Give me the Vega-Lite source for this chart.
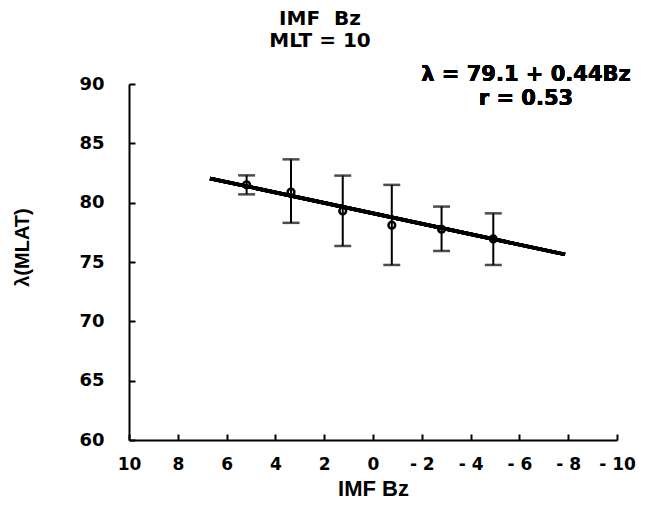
{
  "$schema": "https://vega.github.io/schema/vega-lite/v6.json",
  "autosize": {"type": "none"},
  "width": 488,
  "height": 356,
  "padding": {"left": 129, "top": 84, "right": 40, "bottom": 71},
  "background": "white",
  "title": {
    "text": ["IMF\u00a0\u00a0Bz", "MLT\u00a0=\u00a010"],
    "font": "DejaVu Sans",
    "fontSize": 20,
    "fontWeight": "bold",
    "lineHeight": 22,
    "anchor": "middle",
    "frame": "group",
    "dx": -53,
    "offset": 13,
    "color": "black"
  },
  "config": {
    "view": {"stroke": null},
    "axis": {
      "domainColor": "black",
      "domainWidth": 2,
      "tickColor": "black",
      "tickWidth": 2,
      "grid": false,
      "labelFont": "DejaVu Sans",
      "labelFontWeight": "bold",
      "labelFontSize": 18,
      "labelColor": "black",
      "labelOverlap": false,
      "titleFont": "Liberation Sans",
      "titleFontWeight": "bold",
      "titleColor": "black"
    }
  },
  "data": {
    "values": [
      {"bz": 5.18, "lat": 81.5, "lo": 80.7, "hi": 82.3},
      {"bz": 3.36, "lat": 80.9, "lo": 78.3, "hi": 83.65},
      {"bz": 1.24, "lat": 79.3, "lo": 76.35, "hi": 82.28},
      {"bz": -0.77, "lat": 78.1, "lo": 74.75, "hi": 81.5},
      {"bz": -2.81, "lat": 77.76, "lo": 75.93, "hi": 79.67},
      {"bz": -4.93, "lat": 76.94, "lo": 74.75, "hi": 79.1}
    ]
  },
  "encoding": {
    "x": {
      "field": "bz",
      "type": "quantitative",
      "scale": {"domain": [-10, 10], "reverse": true, "nice": false, "zero": false},
      "axis": {
        "title": "IMF Bz",
        "titleFontSize": 22,
        "values": [10, 8, 6, 4, 2, 0, -2, -4, -6, -8, -10],
        "labelExpr": "replace(datum.label, '−', '- ')",
        "labelFontSize": 17,
        "labelOverlap": false,
        "labelBound": false,
        "labelFlush": false,
        "tickSize": -6,
        "labelPadding": 22,
        "titlePadding": 6
      }
    },
    "y": {
      "field": "lat",
      "type": "quantitative",
      "scale": {"domain": [60, 90], "nice": false, "zero": false},
      "axis": {
        "title": "λ(MLAT)",
        "titleFontSize": 20,
        "titleY": 163,
        "values": [60, 65, 70, 75, 80, 85, 90],
        "labelOverlap": false,
        "tickSize": -6,
        "labelPadding": 31,
        "titlePadding": 46
      }
    }
  },
  "layer": [
    {
      "mark": {"type": "rule", "color": "black", "strokeWidth": 3.5},
      "encoding": {
        "x": {"datum": 6.68},
        "y": {"datum": 82.04},
        "x2": {"datum": -7.87},
        "y2": {"datum": 75.64}
      }
    },
    {
      "mark": {"type": "rule", "color": "black", "strokeWidth": 2},
      "encoding": {
        "y": {"field": "lo", "type": "quantitative"},
        "y2": {"field": "hi"}
      }
    },
    {
      "mark": {"type": "tick", "orient": "horizontal", "color": "black", "thickness": 2.5, "size": 17},
      "encoding": {"y": {"field": "lo", "type": "quantitative"}}
    },
    {
      "mark": {"type": "tick", "orient": "horizontal", "color": "black", "thickness": 2.5, "size": 17},
      "encoding": {"y": {"field": "hi", "type": "quantitative"}}
    },
    {
      "mark": {"type": "point", "shape": "circle", "filled": false, "stroke": "black", "strokeWidth": 2.5, "size": 45, "opacity": 1}
    },
    {
      "mark": {"type": "text", "font": "DejaVu Sans", "fontSize": 21, "fontWeight": "bold", "color": "black", "align": "center", "baseline": "middle", "clip": false},
      "encoding": {
        "x": {"datum": -6.27},
        "y": {"datum": 90.76},
        "text": {"value": "λ = 79.1 + 0.44Bz"}
      }
    },
    {
      "mark": {"type": "text", "font": "DejaVu Sans", "fontSize": 21, "fontWeight": "bold", "color": "black", "align": "center", "baseline": "middle", "clip": false},
      "encoding": {
        "x": {"datum": -6.27},
        "y": {"datum": 88.74},
        "text": {"value": "r = 0.53"}
      }
    }
  ]
}
